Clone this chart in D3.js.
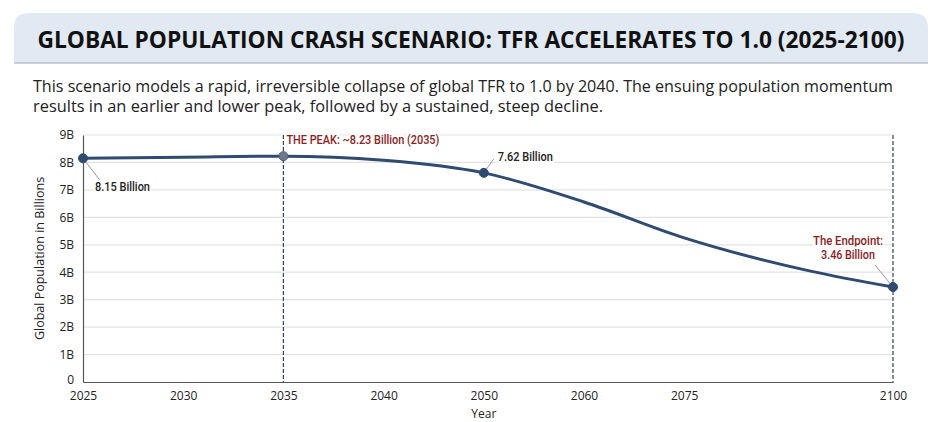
<!DOCTYPE html>
<html>
<head>
<meta charset="utf-8">
<script src="https://cdn.jsdelivr.net/npm/d3@7"></script>
<style>
  html, body { margin: 0; padding: 0; background: #fff; }
  svg { display: block; font-family: "Open Sans", "Noto Sans", sans-serif; }
</style>
</head>
<body>
<svg id="chart"></svg>
<script>
// data
const years = [2025, 2030, 2035, 2040, 2050, 2060, 2075, 2090, 2100];
const population = [8.15, 8.19, 8.23, 8.08, 7.62, 6.56, 5.25, 4.05, 3.46];
const tickYears = [2025, 2030, 2035, 2040, 2050, 2060, 2075, 2100];
const yTicks = [0, 1, 2, 3, 4, 5, 6, 7, 8, 9];
const callouts = [
  {year: 2025, value: 8.15, text: ["8.15 Billion"], kind: "plain"},
  {year: 2035, value: 8.23, text: ["THE PEAK: ~8.23 Billion (2035)"], kind: "peak"},
  {year: 2050, value: 7.62, text: ["7.62 Billion"], kind: "plain"},
  {year: 2100, value: 3.46, text: ["The Endpoint:", "3.46 Billion"], kind: "end"}
];
const markerLines = [2035, 2100];

const config = {
  width: 940, height: 422,
  margin: {top: 135, right: 47, bottom: 40, left: 83}
};

const svg = d3.select("#chart")
  .attr("width", config.width)
  .attr("height", config.height);

const w = config.width - config.margin.left - config.margin.right;
const h = 382 - config.margin.top;

// header band
const hdr = svg.append("g");
hdr.append("path")
  .attr("d", "M14,63 L14,28 Q14,13 29,13 L913,13 Q928,13 928,28 L928,63 Z")
  .attr("fill", "#e1e9f3");
hdr.append("line")
  .attr("x1", 14).attr("x2", 928).attr("y1", 63).attr("y2", 63)
  .attr("stroke", "#b9c3cf").attr("stroke-width", 1.5);

function fitText(sel, len) {
  sel.attr("textLength", len).attr("lengthAdjust", "spacingAndGlyphs");
}

hdr.append("text")
  .attr("x", 471).attr("y", 48)
  .attr("text-anchor", "middle")
  .attr("font-size", 23).attr("font-weight", 700)
  .attr("fill", "#111")
  .text("GLOBAL POPULATION CRASH SCENARIO: TFR ACCELERATES TO 1.0 (2025-2100)")
  .call(fitText, 867);

const sub = svg.append("g").attr("fill", "#222").attr("font-size", 16);
sub.append("text").attr("x", 33).attr("y", 92)
  .text("This scenario models a rapid, irreversible collapse of global TFR to 1.0 by 2040. The ensuing population momentum")
  .call(fitText, 860);
sub.append("text").attr("x", 33).attr("y", 112)
  .text("results in an earlier and lower peak, followed by a sustained, steep decline.")
  .call(fitText, 570);

// scales: year axis is spaced by category slot, not by time
const step = 100.2;
const x = d3.scaleLinear()
  .domain(tickYears)
  .range(tickYears.map((d, i) => i < tickYears.length - 1 ? i * step : w));
const y = d3.scaleLinear().domain([0, 9]).range([h, 0]);

const chart = svg.append("g")
  .attr("transform", `translate(${config.margin.left},${config.margin.top})`);

// gridlines
chart.append("g")
  .selectAll("line")
  .data(yTicks.filter(d => d > 0))
  .join("line")
  .attr("x1", 0).attr("x2", w)
  .attr("y1", d => y(d)).attr("y2", d => y(d))
  .attr("stroke", "#e3e3e3").attr("stroke-width", 1.2);

// axes
const xAxis = d3.axisBottom(x).tickValues(tickYears).tickFormat(d3.format("d"))
  .tickSize(0).tickPadding(9);
const yAxis = d3.axisLeft(y).tickValues(yTicks)
  .tickFormat(d => d === 0 ? "0" : d + "B").tickSize(0).tickPadding(9);

const xg = chart.append("g").attr("transform", `translate(0,${h})`).call(xAxis);
const yg = chart.append("g").call(yAxis);
[xg, yg].forEach(g => {
  g.select(".domain").attr("stroke", "#555").attr("stroke-width", 1.2);
  g.selectAll("text").attr("font-size", 12).attr("fill", "#222")
    .attr("font-family", "'Open Sans', sans-serif");
});
// lift the zero label a touch so it clears the 2025 label
yg.selectAll(".tick text").filter(d => d === 0).attr("dy", "0.1em");

chart.append("text")
  .attr("x", x(2050)).attr("y", h + 36)
  .attr("text-anchor", "middle").attr("font-size", 12).attr("fill", "#222")
  .text("Year");
chart.append("text")
  .attr("transform", `translate(-39,${h / 2}) rotate(-90)`)
  .attr("text-anchor", "middle").attr("font-size", 12.5).attr("fill", "#222")
  .text("Global Population in Billions");

// dashed marker lines
chart.append("g")
  .selectAll("line")
  .data(markerLines)
  .join("line")
  .attr("x1", d => x(d)).attr("x2", d => x(d))
  .attr("y1", 0).attr("y2", h)
  .attr("stroke", "#2d4466").attr("stroke-width", 1.2)
  .attr("stroke-dasharray", "4,2");

// series line
const line = d3.line()
  .x((d, i) => x(years[i]))
  .y(d => y(d))
  .curve(d3.curveMonotoneX);

chart.append("path")
  .datum(population)
  .attr("fill", "none")
  .attr("stroke", "#2f4b70")
  .attr("stroke-width", 3)
  .attr("d", line);

// callout leader lines
const leaders = [
  {year: 2025, value: 8.15, dx: 17, dy: 22},
  {year: 2050, value: 7.62, dx: 10, dy: -14},
  {year: 2100, value: 3.46, dx: -18, dy: -22}
];
chart.append("g")
  .selectAll("line")
  .data(leaders)
  .join("line")
  .attr("x1", d => x(d.year)).attr("y1", d => y(d.value))
  .attr("x2", d => x(d.year) + d.dx).attr("y2", d => y(d.value) + d.dy)
  .attr("stroke", "#999").attr("stroke-width", 1);

// points
chart.append("g")
  .selectAll("circle")
  .data(callouts)
  .join("circle")
  .attr("cx", d => x(d.year)).attr("cy", d => y(d.value))
  .attr("r", 4.5)
  .attr("fill", d => d.kind === "peak" ? "#6e7b8f" : "#2f4b70")
  .attr("stroke", d => d.kind === "peak" ? "#4e5d73" : "#2f4b70")
  .attr("stroke-width", 1);

// callout labels (condensed look: roboto squeezed to the reference widths)
const labelPos = {
  plain: d => d.year === 2025 ? [12, 33, "start"] : [14, -12, "start"],
  peak: d => [3, -12, "start"],
  end: d => [-45, -42, "middle"]
};
const labelWidths = {
  "8.15 Billion": 55, "7.62 Billion": 55,
  "THE PEAK: ~8.23 Billion (2035)": 153,
  "The Endpoint:": 70, "3.46 Billion": 54
};
callouts.forEach(d => {
  const [dx, dy, anchor] = labelPos[d.kind](d);
  d.text.forEach((s, i) => {
    chart.append("text")
      .attr("x", x(d.year) + dx).attr("y", y(d.value) + dy + i * 14)
      .attr("text-anchor", anchor)
      .attr("font-family", "Roboto, sans-serif")
      .attr("font-weight", 500)
      .attr("font-size", 12.5)
      .attr("fill", d.kind === "plain" ? "#222" : "#8a2222")
      .attr("stroke", "#fff").attr("stroke-width", 5)
      .attr("paint-order", "stroke")
      .attr("stroke-linejoin", "round")
      .text(s)
      .call(fitText, labelWidths[s]);
  });
});
</script>
</body>
</html>
